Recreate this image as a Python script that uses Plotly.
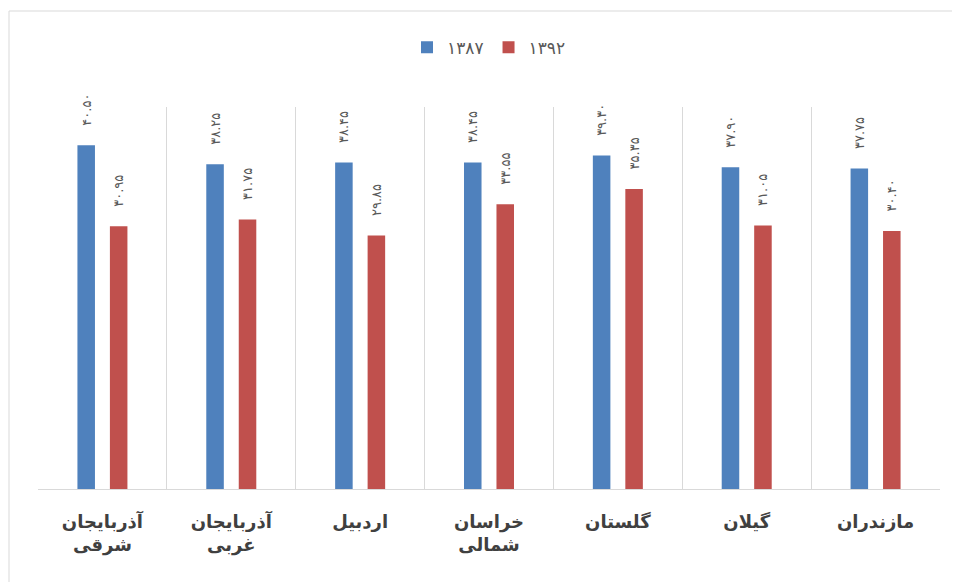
import plotly.graph_objects as go

categories = ["آذربایجان<br>شرقی", "آذربایجان<br>غربی", "اردبیل", "خراسان<br>شمالی", "گلستان", "گیلان", "مازندران"]
series_names = ["۱۳۸۷", "۱۳۹۲"]
values_1387 = [40.50, 38.25, 38.45, 38.45, 39.30, 37.90, 37.75]
values_1392 = [30.95, 31.75, 29.85, 33.55, 35.35, 31.05, 30.40]
colors = ["#4F81BD", "#C0504D"]

def fa(v):
    s = f"{v:.2f}"
    return s.translate(str.maketrans("0123456789", "۰۱۲۳۴۵۶۷۸۹"))

# page body has an 8px margin
OFF = 8
W, H = 960 - OFF, 582 - OFF
ml = 38 - OFF
mr = W - (940 - OFF)
mt = 107 - OFF
mb = H - (489 - OFF)

fig = go.Figure()
for name, vals, col in zip(series_names, [values_1387, values_1392], colors):
    fig.add_trace(go.Bar(
        x=categories, y=vals, name=name, marker=dict(color=col, line=dict(width=0)),
        text=["\u00a0\u00a0\u00a0\u00a0" + fa(v) for v in vals], textposition="outside", textangle=-90,
        constraintext="none",
        textfont=dict(family="DejaVu Sans", size=13, color="#595959"),
        cliponaxis=False,
    ))

pw, ph = W - ml - mr, H - mt - mb
bx0 = (9 - OFF - ml) / pw
by1 = (H - mb - (11 - OFF)) / ph

fig.update_layout(
    width=W, height=H,
    margin=dict(l=ml, r=mr, t=mt, b=mb),
    paper_bgcolor="white", plot_bgcolor="white",
    barmode="group", bargap=0.496, bargroupgap=0.46,
    showlegend=True,
    legend=dict(orientation="h", x=0.5, xanchor="center", y=1.155, yanchor="middle",
                font=dict(family="DejaVu Sans", size=17, color="#595959"),
                itemwidth=30, traceorder="normal"),
    xaxis=dict(type="category", tickson="boundaries", showgrid=True, gridcolor="#d9d9d9", gridwidth=1,
               showline=True, linecolor="#d9d9d9", ticks="", ticklabelstandoff=16,
               tickfont=dict(family="DejaVu Sans", size=18, color="#404040", weight="bold"),
               range=[-0.5, 6.5]),
    yaxis=dict(range=[0, 45], visible=False, showgrid=False, zeroline=False),
    shapes=[dict(type="rect", xref="paper", yref="paper", x0=bx0, x1=1.2, y0=-0.5, y1=by1,
                 line=dict(color="#d9d9d9", width=1), fillcolor="rgba(0,0,0,0)", layer="below")],
)

fig.write_html("out.html")
